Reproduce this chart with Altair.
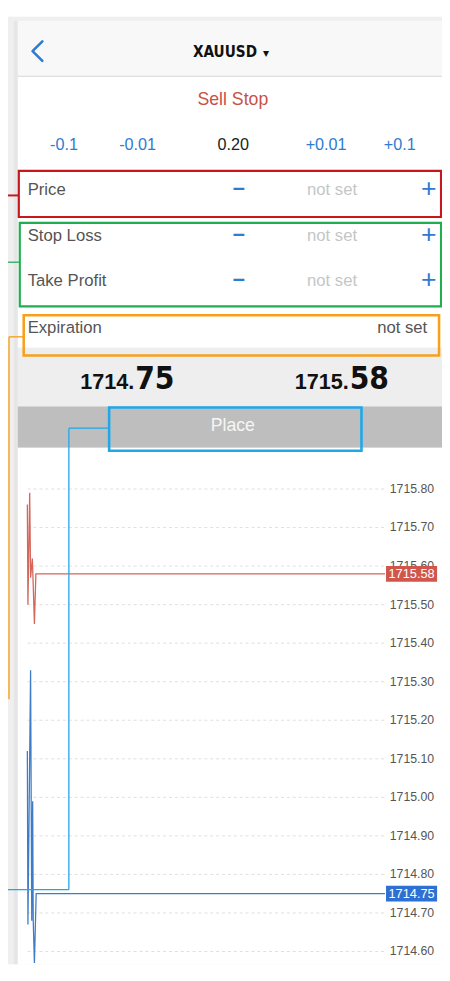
import altair as alt
import pandas as pd

# ---------------- data ----------------
SYMBOL = "XAUUSD"
ORDER_TYPE = "Sell Stop"
STEP_LABELS = ["-0.1", "-0.01", "0.20", "+0.01", "+0.1"]
FIELD_LABELS = ["Price", "Stop Loss", "Take Profit"]
FIELD_VALUES = ["not set", "not set", "not set"]
EXPIRY_LABEL = "Expiration"
EXPIRY_VALUE = "not set"
BID = 1714.75
ASK = 1715.58
BUTTON_LABEL = "Place"
TICK_PRICES = [1715.80, 1715.70, 1715.60, 1715.50, 1715.40, 1715.30, 1715.20,
               1715.10, 1715.00, 1714.90, 1714.80, 1714.70, 1714.60]
ASK_TIME = [0.0, 0.2, 0.8, 1.1, 1.7, 2.0, 2.4, 2.9, 121.4]
ASK_PRICE = [1715.76, 1715.50, 1715.79, 1715.57, 1715.62, 1715.55, 1715.45, 1715.58, 1715.58]
BID_TIME = [0.0, 0.2, 1.1, 1.5, 1.8, 2.0, 2.4, 3.0, 121.4]
BID_PRICE = [1715.12, 1714.67, 1715.33, 1714.68, 1714.99, 1714.68, 1714.57, 1714.75, 1714.75]

# ---------------- styles / layout ----------------
W, H = 442, 965
YB = 8 + H  # bottom of the visible frame in screen pixels
SANS = "Liberation Sans, Arial, Helvetica, sans-serif"
NARROW = "Liberation Sans Narrow, DejaVu Sans Condensed, Liberation Sans, sans-serif"
BLUE = "#2f7bd0"
RED_TXT = "#c8504a"
GRAY_TXT = "#555555"
LIGHT_TXT = "#c6c6c6"
ASK_COLOR = "#d4665c"
BID_COLOR = "#3f7cc8"

UX = alt.Scale(domain=[8, 8 + W], nice=False, zero=False)
UY = alt.Scale(domain=[8, YB], nice=False, zero=False, reverse=True)


def ux(f="x"):
    return alt.X(f"{f}:Q", scale=UX, axis=None)


def uy(f="y"):
    return alt.Y(f"{f}:Q", scale=UY, axis=None)


def texts(rows, align="center", font=SANS, weight="normal", baseline="middle"):
    df = pd.DataFrame(rows)
    return alt.Chart(df).mark_text(align=align, baseline=baseline, font=font,
                                   fontWeight=weight).encode(
        x=ux("x"), y=uy("y"), text="text:N",
        color=alt.Color("color:N", scale=None),
        size=alt.Size("size:Q", scale=None))


# ---------------- UI background ----------------
panels = pd.DataFrame([
    dict(x=8, x2=450, y=8, y2=YB, fill="#efefef"),
    dict(x=14, x2=18, y=12, y2=YB, fill="#e6e6e6"),
    dict(x=18, x2=450, y=12, y2=68, fill="#f8f8f8"),
    dict(x=18, x2=450, y=68, y2=69.3, fill="#e0e0e0"),
    dict(x=18, x2=450, y=69.3, y2=345, fill="#ffffff"),
    dict(x=18, x2=450, y=345, y2=405, fill="#eeeeee"),
    dict(x=18, x2=450, y=405, y2=447, fill="#bebebe"),
    dict(x=18, x2=450, y=447, y2=YB, fill="#ffffff"),
])
bg = alt.Chart(panels).mark_rect(strokeWidth=0).encode(
    x=ux("x"), x2="x2:Q", y=uy("y"), y2="y2:Q",
    color=alt.Color("fill:N", scale=None))

chev = pd.DataFrame(dict(x=[43, 33, 43], y=[33, 43, 53], i=[0, 1, 2]))
chevron = alt.Chart(chev).mark_line(color=BLUE, strokeWidth=2.6, strokeCap="round",
                                    strokeJoin="round").encode(
    x=ux("x"), y=uy("y"), order="i:O")

FIELD_Y = [185, 231, 277]
STEP_X = [65, 140, 237.5, 332, 407]

center_rows = [dict(text=ORDER_TYPE, x=237, y=93, color=RED_TXT, size=18),
               dict(text="▾", x=271, y=45, color="#111111", size=12),
               dict(text=BUTTON_LABEL, x=237, y=425, color="#f6f6f6", size=18)]
for lab, xx in zip(STEP_LABELS, STEP_X):
    center_rows.append(dict(text=lab, x=xx, y=139,
                            color=BLUE if lab[0] in "+-" else "#222222", size=16.5))
for val, yy in zip(FIELD_VALUES, FIELD_Y):
    center_rows.append(dict(text=val, x=338, y=yy, color=LIGHT_TXT, size=17))
    center_rows.append(dict(text="+", x=436.5, y=yy - 1, color=BLUE, size=27))

bold_center = [dict(text=SYMBOL, x=229, y=44, color="#111111", size=15.5)]
minus_rows = [dict(text="−", x=243, y=yy - 1, color=BLUE, size=22) for yy in FIELD_Y]

left_rows = [dict(text=lab, x=28, y=yy, color=GRAY_TXT, size=17)
             for lab, yy in zip(FIELD_LABELS, FIELD_Y)]
left_rows.append(dict(text=EXPIRY_LABEL, x=28, y=325, color=GRAY_TXT, size=17))
right_rows = [dict(text=EXPIRY_VALUE, x=435, y=325, color=GRAY_TXT, size=17)]

quote_small, quote_big = [], []
for val, xsplit in [(BID, 136.5), (ASK, 355)]:
    s = f"{val:.2f}"
    head, tail = s.split(".")
    quote_small.append(dict(text=head + ".", x=xsplit, y=387, color="#111111", size=22))
    quote_big.append(dict(text=tail, x=xsplit + 1, y=387, color="#111111", size=32))

ui_base = alt.layer(
    bg, chevron,
    texts(center_rows),
    texts(bold_center, font=NARROW, weight="bold"),
    texts(minus_rows, weight="bold"),
    texts(left_rows, align="left"),
    texts(right_rows, align="right"),
    texts(quote_small, align="right", weight="bold", baseline="alphabetic"),
    texts(quote_big, align="left", font=NARROW, weight="bold", baseline="alphabetic"),
)

# ---------------- price chart ----------------
PPU = 392.5  # screen pixels per price unit
top_tick = TICK_PRICES[0]
PY = alt.Scale(domain=[top_tick - (YB - 489) / PPU, top_tick + (489 - 8) / PPU],
               nice=False, zero=False)
PX = alt.Scale(domain=[(8 - 27.7) / 3, (8 + W - 27.7) / 3], nice=False, zero=False)

ticks = pd.DataFrame(dict(p=TICK_PRICES))
grid = alt.Chart(ticks).mark_rule(color="#dedede", strokeDash=[3, 3], strokeWidth=1).encode(
    y=alt.Y("p:Q", scale=PY, axis=None), x=alt.value(20), x2=alt.value(384))
tick_labels = alt.Chart(ticks).mark_text(align="right", baseline="middle", font=SANS,
                                         fontSize=12.5, color="#555555").encode(
    y=alt.Y("p:Q", scale=PY, axis=None), x=alt.value(434),
    text=alt.Text("p:Q", format=".2f"))

ask_df = pd.DataFrame(dict(t=ASK_TIME, p=ASK_PRICE))
bid_df = pd.DataFrame(dict(t=BID_TIME, p=BID_PRICE))
ask_line = alt.Chart(ask_df).mark_line(color=ASK_COLOR, strokeWidth=1.3).encode(
    x=alt.X("t:Q", scale=PX, axis=None), y=alt.Y("p:Q", scale=PY, axis=None))
bid_line = alt.Chart(bid_df).mark_line(color=BID_COLOR, strokeWidth=1.3).encode(
    x=alt.X("t:Q", scale=PX, axis=None), y=alt.Y("p:Q", scale=PY, axis=None))

cur = pd.DataFrame(dict(p=[ASK, BID], fill=["#d0564c", "#2d6fd2"]))
cur_box = alt.Chart(cur).mark_rect(height=16).encode(
    y=alt.Y("p:Q", scale=PY, axis=None), x=alt.value(385), x2=alt.value(437),
    color=alt.Color("fill:N", scale=None))
cur_txt = alt.Chart(cur).mark_text(align="center", baseline="middle", font=SANS,
                                   fontSize=13, color="#ffffff").encode(
    y=alt.Y("p:Q", scale=PY, axis=None), x=alt.value(411),
    text=alt.Text("p:Q", format=".2f"))

price_layer = alt.layer(grid, tick_labels, ask_line, bid_line, cur_box, cur_txt)

# ---------------- annotation overlay ----------------
boxes = pd.DataFrame([
    dict(x=19, x2=449, y=165, y2=212, c="#c8161d", sw=2.2),
    dict(x=20, x2=449, y=218, y2=303, c="#1fae52", sw=2.2),
    dict(x=24, x2=447, y=312, y2=353, c="#f7a01c", sw=2.6),
    dict(x=111, x2=368, y=406, y2=450, c="#1ea8ea", sw=2.6),
])
box_layer = alt.Chart(boxes).mark_rect(fillOpacity=0).encode(
    x=ux("x"), x2="x2:Q", y=uy("y"), y2="y2:Q",
    stroke=alt.Stroke("c:N", scale=None),
    strokeWidth=alt.StrokeWidth("sw:Q", scale=None))

links = pd.DataFrame([
    dict(x=8, x2=19, y=190, y2=190, c="#c8161d", sw=2.0),
    dict(x=8, x2=20, y=258, y2=258, c="#1fae52", sw=1.3),
    dict(x=9, x2=24, y=334, y2=334, c="#f7a01c", sw=1.4),
    dict(x=9, x2=9, y=334, y2=703, c="#f7a01c", sw=1.4),
    dict(x=70, x2=111, y=427, y2=427, c="#1ea8ea", sw=1.3),
    dict(x=70, x2=70, y=427, y2=897, c="#1ea8ea", sw=1.3),
    dict(x=8, x2=70, y=897, y2=897, c="#1ea8ea", sw=1.3),
])
link_layer = alt.Chart(links).mark_rule().encode(
    x=ux("x"), x2="x2:Q", y=uy("y"), y2="y2:Q",
    color=alt.Color("c:N", scale=None),
    strokeWidth=alt.StrokeWidth("sw:Q", scale=None))

ui_overlay = alt.layer(box_layer, link_layer)

chart = alt.layer(ui_base, price_layer, ui_overlay).resolve_scale(
    x="independent", y="independent"
).properties(
    width=W, height=H, padding=0,
    autosize=alt.AutoSizeParams(type="none"),
    background="#ffffff",
).configure_view(stroke=None)

chart.save("out.html", embed_options={"renderer": "svg", "actions": False})
